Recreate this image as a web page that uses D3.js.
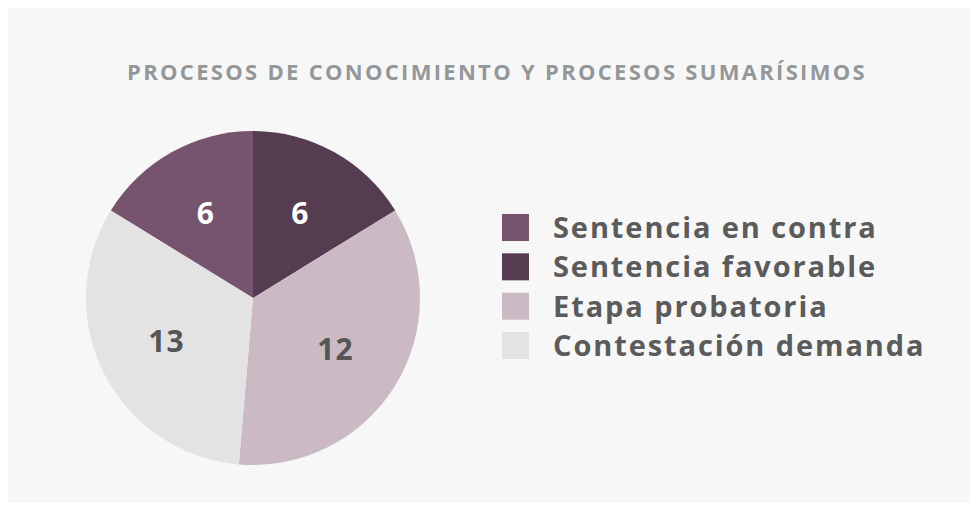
<!DOCTYPE html>
<html>
<head>
<meta charset="utf-8">
<script src="https://cdn.jsdelivr.net/npm/d3@7"></script>
<style>
  html, body { margin: 0; padding: 0; background: #ffffff; }
  svg { display: block; }
</style>
</head>
<body>
<div id="chart"></div>
<script>
const title = "PROCESOS DE CONOCIMIENTO Y PROCESOS SUMARÍSIMOS"
const categories = ["Sentencia en contra", "Sentencia favorable", "Etapa probatoria", "Contestación demanda"]
// slice sizes as drawn in the picture (the two big slices are not drawn in
// proportion to their printed numbers, so the printed labels are kept apart)
const sliceValues = [6, 6, 13, 12]
const sliceLabels = ["6", "6", "12", "13"]
const colors = ["#76546e", "#553c50", "#cbbac4", "#e3e3e3"]
const labelColors = ["#ffffff", "#ffffff", "#555555", "#555555"]

const width = 978
const height = 512
const font = "'Open Sans', 'DejaVu Sans', sans-serif"

const svg = d3.select("#chart")
  .append("svg")
  .attr("width", width)
  .attr("height", height)

svg.append("rect")
  .attr("x", 8)
  .attr("y", 8)
  .attr("width", width - 16)
  .attr("height", height - 17)
  .attr("fill", "#f7f7f7")

svg.append("text")
  .attr("x", 497)
  .attr("y", 80)
  .attr("text-anchor", "middle")
  .attr("font-family", font)
  .attr("font-weight", 700)
  .attr("font-size", 22)
  .attr("letter-spacing", 2.3)
  .attr("fill", "#939799")
  .text(title)

// Pie: the first slice ends at twelve o'clock, the rest go clockwise
const cx = 253, cy = 298, radius = 167
const total = d3.sum(sliceValues)
const offset = 2 * Math.PI * sliceValues[0] / total
const pie = d3.pie().sort(null).startAngle(-offset).endAngle(2 * Math.PI - offset)
const arcs = pie(sliceValues)
const arc = d3.arc().innerRadius(0).outerRadius(radius)
const labelArc = d3.arc().innerRadius(radius * 0.58).outerRadius(radius * 0.58)

const g = svg.append("g").attr("transform", `translate(${cx},${cy})`)

g.selectAll("path")
  .data(arcs)
  .join("path")
  .attr("d", arc)
  .attr("fill", (d, i) => colors[i])

g.selectAll("text")
  .data(arcs)
  .join("text")
  .attr("transform", d => `translate(${labelArc.centroid(d)})`)
  .attr("text-anchor", "middle")
  .attr("dy", "0.36em")
  .attr("font-family", font)
  .attr("font-weight", 700)
  .attr("font-size", 30)
  .attr("letter-spacing", 1)
  .attr("fill", (d, i) => labelColors[i])
  .text((d, i) => sliceLabels[i])

// Legend
const legendY = d3.scalePoint().domain(categories).range([227.5, 345.5])
const legend = svg.append("g")
  .selectAll("g")
  .data(categories)
  .join("g")
  .attr("transform", d => `translate(502,${legendY(d)})`)

legend.append("rect")
  .attr("x", 0)
  .attr("y", -13.5)
  .attr("width", 27)
  .attr("height", 27)
  .attr("fill", (d, i) => colors[i])

legend.append("text")
  .attr("x", 51)
  .attr("y", 10.5)
  .attr("font-family", font)
  .attr("font-weight", 700)
  .attr("font-size", 29)
  .attr("letter-spacing", 1.9)
  .attr("fill", "#5b5b5b")
  .text(d => d)
</script>
</body>
</html>
